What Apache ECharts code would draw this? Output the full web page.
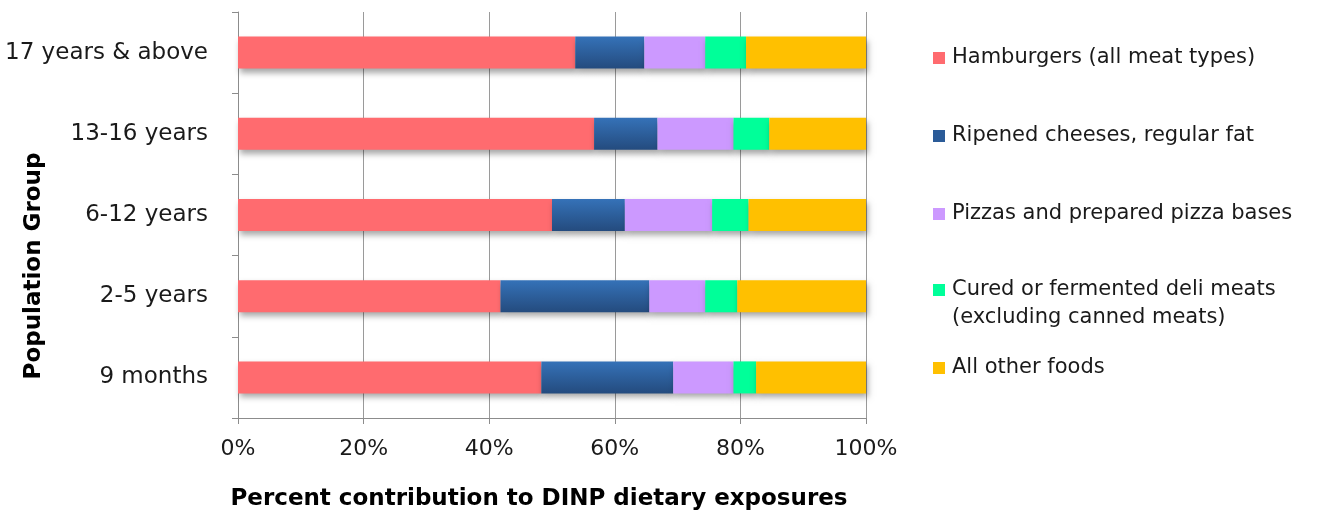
<!DOCTYPE html>
<html>
<head>
<meta charset="utf-8">
<script src="https://cdn.jsdelivr.net/npm/echarts@6/dist/echarts.min.js"></script>
<style>
html,body{margin:0;padding:0;background:#fff;}
#chart{width:1323px;height:512px;}
</style>
</head>
<body>
<div id="chart"></div>
<script>
const categories = ['9 months', '2-5 years', '6-12 years', '13-16 years', '17 years & above'];
const hamburgers = [48.3, 41.8, 50.0, 56.7, 53.7];
const cheeses = [21.0, 23.7, 11.6, 10.1, 11.0];
const pizzas = [9.6, 8.9, 13.9, 12.1, 9.7];
const deliMeats = [3.6, 5.1, 5.8, 5.7, 6.5];
const otherFoods = [17.5, 20.5, 18.7, 15.4, 19.1];
const xTicks = [0, 20, 40, 60, 80, 100];

const names = [
  'Hamburgers (all meat types)',
  'Ripened cheeses, regular fat',
  'Pizzas and prepared pizza bases',
  'Cured or fermented deli meats\n(excluding canned meats)',
  'All other foods'
];
const values = [hamburgers, cheeses, pizzas, deliMeats, otherFoods];
const colors = [
  '#FF6B6F',
  {type:'linear', x:0, y:0, x2:0, y2:1, colorStops:[{offset:0, color:'#3572B8'},{offset:1, color:'#244B7E'}]},
  '#CC99FF',
  '#00FF99',
  '#FFC000'
];
const legendColors = ['#FF6B6F', '#2B5B98', '#CC99FF', '#00FF99', '#FFC000'];
const FONT = 'DejaVu Sans';

const series = names.map((n, i) => ({
  name: n,
  type: 'bar',
  stack: 'total',
  barWidth: 32,
  data: values[i],
  itemStyle: {
    color: colors[i],
    shadowColor: 'rgba(0,0,0,0.35)',
    shadowBlur: 6,
    shadowOffsetX: 2,
    shadowOffsetY: 4
  },
  emphasis: {disabled: true}
}));

const legendTops = [41, 119, 197, 243, 351];
const legends = names.map((n, i) => ({
  orient: 'vertical',
  left: 928,
  top: legendTops[i],
  itemWidth: 12,
  itemHeight: 12,
  itemGap: 0,
  icon: 'rect',
  selectedMode: false,
  formatter: i === 3 ? (name => ' \n' + name) : '{name}',
  data: [{name: n, itemStyle: {color: legendColors[i], shadowBlur: 0, shadowOffsetX: 0, shadowOffsetY: 0}}],
  textStyle: {
    fontFamily: FONT, fontSize: 21, color: '#1a1a1a', lineHeight: i === 3 ? 28 : 24, padding: [0, 0, 0, 2]
  }
}));

const chart = echarts.init(document.getElementById('chart'));
chart.setOption({
  animation: false,
  backgroundColor: '#ffffff',
  legend: legends,
  grid: {left: 238, right: 457, top: 12, bottom: 94, containLabel: false, outerBoundsMode: 'none'},
  xAxis: {
    type: 'value',
    min: xTicks[0],
    max: xTicks[xTicks.length - 1],
    interval: 20,
    name: 'Percent contribution to DINP dietary exposures',
    nameLocation: 'middle',
    nameGap: 70,
    nameMoveOverlap: false,
    nameTextStyle: {fontFamily: FONT, fontSize: 23, fontWeight: 'bold', color: '#000', padding: [0, 26, 0, 0]},
    axisLine: {show: true, lineStyle: {color: '#8c8c8c', width: 1}},
    axisTick: {show: true, length: 6, lineStyle: {color: '#8c8c8c'}},
    axisLabel: {formatter: '{value}%', fontFamily: FONT, fontSize: 22, color: '#1a1a1a', margin: 20},
    splitLine: {show: true, lineStyle: {color: '#9a9a9a', width: 1}}
  },
  yAxis: {
    type: 'category',
    data: categories,
    name: 'Population Group',
    nameLocation: 'middle',
    nameGap: 192,
    nameMoveOverlap: false,
    nameRotate: 90,
    nameTextStyle: {fontFamily: FONT, fontSize: 23, fontWeight: 'bold', color: '#000', padding: [0, 102, 0, 0]},
    axisLine: {show: true, lineStyle: {color: '#8c8c8c', width: 1}},
    axisTick: {show: true, length: 6, lineStyle: {color: '#8c8c8c'}},
    axisLabel: {fontFamily: FONT, fontSize: 23, color: '#1a1a1a', margin: 30},
    splitLine: {show: false}
  },
  series: series
});
</script>
</body>
</html>
